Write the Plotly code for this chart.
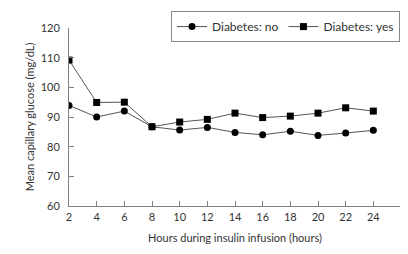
import plotly.graph_objects as go

hours = [2, 4, 6, 8, 10, 12, 14, 16, 18, 20, 22, 24]
diab_no = [93.9, 90.0, 92.0, 86.7, 85.6, 86.5, 84.8, 84.0, 85.2, 83.8, 84.6, 85.5]
diab_yes = [109.2, 94.9, 95.0, 86.7, 88.3, 89.2, 91.3, 89.8, 90.3, 91.3, 93.1, 92.0]
x_ticks = [2, 4, 6, 8, 10, 12, 14, 16, 18, 20, 22, 24, 26]
x_labels = ["2", "4", "6", "8", "10", "12", "14", "16", "18", "20", "22", "24", ""]
y_ticks = [60, 70, 80, 90, 100, 110, 120]

font_family = "Lato, 'DejaVu Sans', sans-serif"
text_col = "#333333"
axis_col = "#808080"

fig = go.Figure()
fig.add_trace(go.Scatter(
    x=hours, y=diab_no, mode="lines+markers", name="Diabetes: no",
    line=dict(color="#555555", width=1),
    marker=dict(symbol="circle", size=7, color="black"),
))
fig.add_trace(go.Scatter(
    x=hours, y=diab_yes, mode="lines+markers", name="Diabetes: yes",
    line=dict(color="#555555", width=1),
    marker=dict(symbol="square", size=7, color="black"),
))

fig.update_layout(
    width=408, height=254,
    margin=dict(l=61, r=15, t=20, b=56, autoexpand=False),
    paper_bgcolor="white", plot_bgcolor="white",
    font=dict(family=font_family, size=11, color=text_col),
    showlegend=True,
    legend=dict(
        orientation="h", x=0.997, y=1.095, xanchor="right", yanchor="top",
        bordercolor="#888888", borderwidth=1,
        font=dict(size=12, color=text_col),
        itemwidth=30, tracegroupgap=0,
    ),
    xaxis=dict(
        range=[2, 26], tickvals=x_ticks, ticktext=x_labels,
        showgrid=False, zeroline=False,
        showline=True, linecolor=axis_col, linewidth=1,
        ticks="inside", ticklen=5, tickcolor=axis_col,
        ticklabelstandoff=1,
        title=dict(text="Hours during insulin infusion (hours)", font=dict(size=11), standoff=12),
        tickfont=dict(size=11),
        automargin=False,
    ),
    yaxis=dict(
        range=[60, 120], tickvals=y_ticks,
        showgrid=False, zeroline=False,
        showline=True, linecolor=axis_col, linewidth=1,
        ticks="inside", ticklen=5, tickcolor=axis_col,
        ticklabelstandoff=6,
        title=dict(text="Mean capillary glucose (mg/dL)", font=dict(size=11), standoff=3),
        tickfont=dict(size=11),
        automargin=False,
    ),
)

fig.write_html("out.html")
